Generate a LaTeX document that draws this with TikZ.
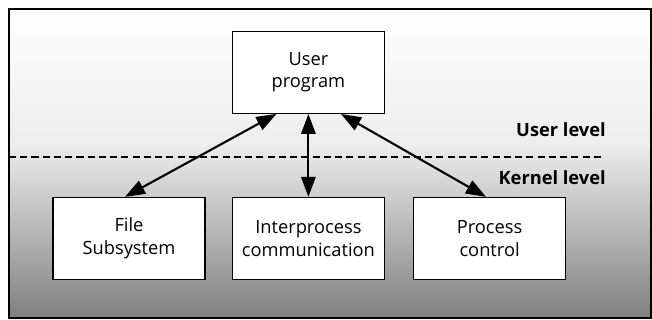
\documentclass[tikz,border=0pt]{standalone}
\usepackage{fontspec}
\setmainfont{Open Sans}
\usepackage{tikz}
\usetikzlibrary{positioning,arrows.meta}

\begin{document}
\begin{tikzpicture}[font=\fontsize{13}{16}\selectfont,
  box/.style={draw=black, fill=white, line width=0.8pt, minimum width=3.8cm, minimum height=2.05cm, align=center, inner sep=2pt},
  lvl/.style={font=\fontsize{13}{16}\selectfont\bfseries, anchor=east, inner sep=0pt},
  arr/.style={{Triangle[length=5mm, width=3.6mm]}-{Triangle[length=5mm, width=3.6mm]}, draw=black, line width=1.5pt}]
\useasboundingbox (0,0) rectangle (16.3,8);
% background and frame
\shade[top color=white, bottom color=black!7] (0.225,7.775) rectangle (16.275,4.4);
\shade[top color=black!7, bottom color=black!50] (0.225,4.4) rectangle (16.275,0.05);
\draw[line width=0.8pt] (0.225,0.05) rectangle (16.275,7.775);
\node[box] (user) at (7.71,6.19) {User\\program};
\node[box] (file) at (3.225,2.04) {File\\Subsystem};
\node[box] (ipc) at (7.71,2.04) {Interprocess\\communication};
\node[box] (proc) at (12.24,2.04) {Process\\control};
\coordinate (dl) at (0.225,4.075);
\coordinate (dr) at (15.07,4.075);
\draw[line width=0.8pt, dash pattern=on 5pt off 3pt] (dl) -- (dr);
\node[lvl] (ulev) at (15.15,4.75) {User level};
\node[lvl] (klev) at (15.15,3.55) {Kernel level};
\draw[arr] ([xshift=-0.8cm]user.south) -- ([xshift=-0.1cm]file.north);
\draw[arr] (user.south) -- (ipc.north);
\draw[arr] ([xshift=0.815cm]user.south) -- ([xshift=-0.09cm]proc.north);
\end{tikzpicture}
\end{document}
